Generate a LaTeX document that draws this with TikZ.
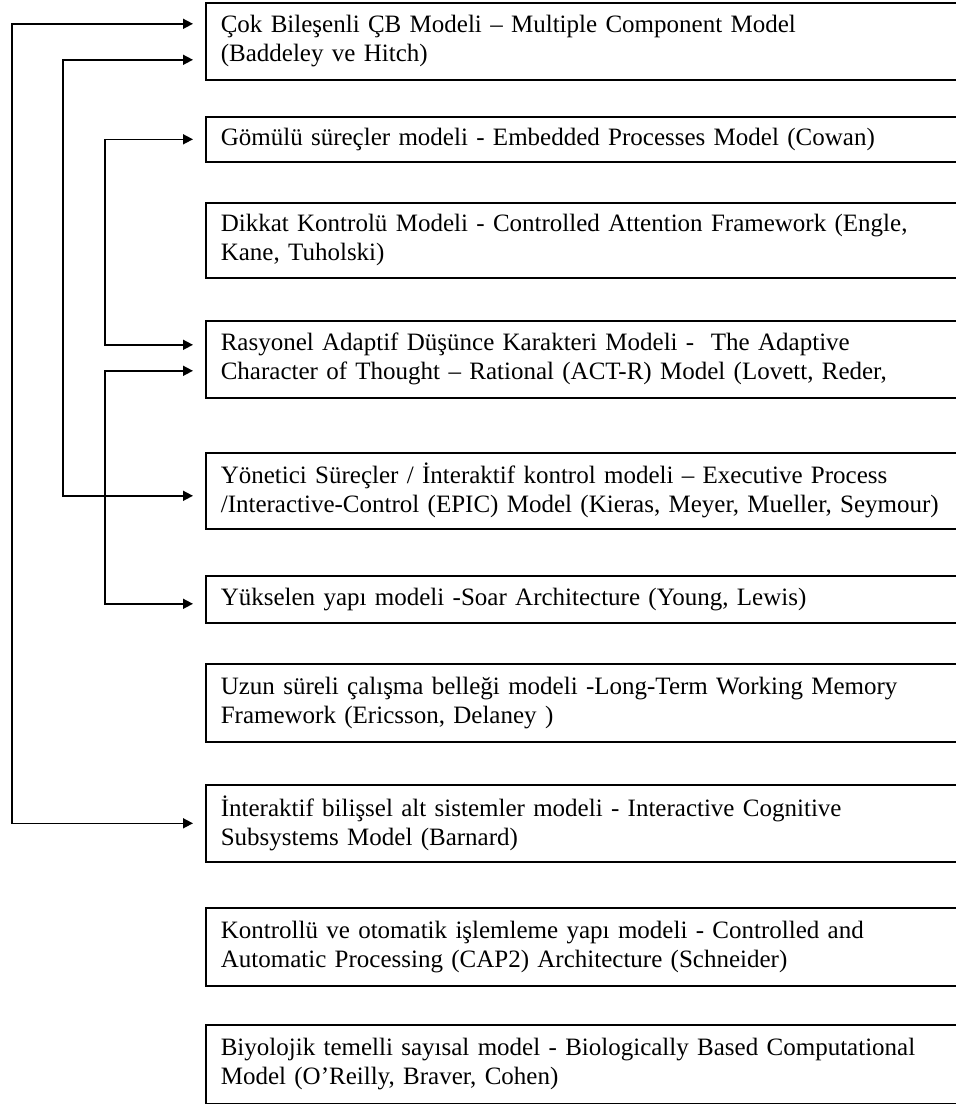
\documentclass[tikz,border=0pt]{standalone}
\usepackage{fontspec}
\setmainfont{Liberation Serif}
\usetikzlibrary{calc}
\usetikzlibrary{arrows.meta}

\tikzset{
  modelbox/.style={draw, line width=0.8pt, anchor=north west, align=left,
    text width=380pt, inner xsep=7.5pt, inner ysep=0pt,
    font=\fontsize{12.5}{14.5}\selectfont},
  link/.style={{Triangle[length=5pt,width=5pt]}-{Triangle[length=5pt,width=5pt]},
    line width=0.8pt, shorten <=6pt, shorten >=6pt}
}

\begin{document}
\begin{tikzpicture}[x=0.5pt,y=-0.5pt]
\useasboundingbox (0,0) rectangle (956,1104);
\clip (0,0) rectangle (956,1104);

% model boxes
\node[modelbox, minimum height=38.5pt] (cb) at (205,2)
  {Çok Bileşenli ÇB Modeli – Multiple Component Model\\(Baddeley ve Hitch)};
\node[modelbox, minimum height=22.5pt] (gomulu) at (205,116)
  {Gömülü süreçler modeli - Embedded Processes Model (Cowan)};
\node[modelbox, minimum height=37.5pt] (dikkat) at (205,202)
  {Dikkat Kontrolü Modeli - Controlled Attention Framework (Engle,\\Kane, Tuholski)};
\node[modelbox, minimum height=38.5pt] (actr) at (205,320)
  {Rasyonel Adaptif Düşünce Karakteri Modeli -\ \ The Adaptive\\Character of Thought – Rational (ACT-R) Model (Lovett, Reder,};
\node[modelbox, minimum height=38pt] (epic) at (205,452)
  {Yönetici Süreçler / İnteraktif kontrol modeli – Executive Process\\/Interactive-Control (EPIC) Model (Kieras, Meyer, Mueller, Seymour)};
\node[modelbox, minimum height=23.5pt] (soar) at (205,575)
  {Yükselen yapı modeli -Soar Architecture (Young, Lewis)};
\node[modelbox, minimum height=39pt] (ltwm) at (205,663)
  {Uzun süreli çalışma belleği modeli -Long-Term Working Memory\\Framework (Ericsson, Delaney )};
\node[modelbox, minimum height=38.5pt] (icss) at (205,784)
  {İnteraktif bilişsel alt sistemler modeli - Interactive Cognitive\\Subsystems Model (Barnard)};
\node[modelbox, minimum height=39pt] (cap) at (205,907)
  {Kontrollü ve otomatik işlemleme yapı modeli - Controlled and\\Automatic Processing (CAP2) Architecture (Schneider)};
\node[modelbox, minimum height=39.5pt] (bio) at (205,1024)
  {Biyolojik temelli sayısal model - Biologically Based Computational\\Model (O’Reilly, Braver, Cohen)};

% connectors on the left
\draw[link] ($(cb.west)+(0,-17.5)$) -- ++(-193,0) |- (icss.west);
\draw[link] ($(cb.west)+(0,18.5)$) -- ++(-142,0) |- ($(epic.west)+(0,5)$);
\draw[link] (gomulu.west) -- ++(-100,0) |- ($(actr.west)+(0,-14.5)$);
\draw[link] ($(actr.west)+(0,11.5)$) -- ++(-100,0) |- ($(soar.west)+(0,4.5)$);
\end{tikzpicture}
\end{document}
